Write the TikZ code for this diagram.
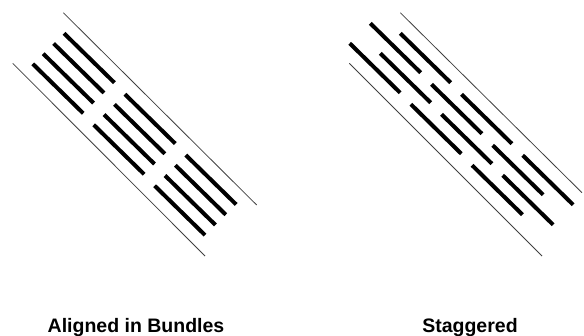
\documentclass[tikz,border=0pt]{standalone}
\usepackage{fontspec}
\setmainfont{Liberation Sans}
\begin{document}
\begin{tikzpicture}[x=1pt,y=-1pt,
  bar/.style={line width=4pt,line cap=butt,black},
  edge/.style={line width=0.8pt,black!75},
  caption/.style={anchor=base,inner sep=0pt,font=\fontsize{19.5}{22}\selectfont\bfseries}]
\useasboundingbox (0,0) rectangle (584,335);

% ---- aligned in bundles ----
\draw[edge] (63.3,12.7) -- (256.7,205);
\draw[edge] (12.7,63.3) -- (205,256);
\foreach \b in {0,1,2}{
  \foreach \r in {0,1,2,3}{
    \draw[bar] ({64+60.9*\b-10.4*\r},{33.3+60.9*\b+10.2*\r})
            -- ++(50.4,49.4);
  }
}

% ---- staggered ----
\draw[edge] (400.3,12.7) -- (582,192.7);
\draw[edge] (349.3,63.3) -- (542,256);
\foreach \sx/\sy in {400.3/33.3, 370.3/23.3, 380.3/53.3, 349.7/43.3}{
  \foreach \b in {0,1,2}{
    \draw[bar] ({\sx+61.2*\b},{\sy+61*\b}) -- ++(50.4,49.4);
  }
}

\node[caption] (lblA) at (136,332) {Aligned in Bundles};
\node[caption] (lblS) at (470,332) {Staggered};
\end{tikzpicture}
\end{document}
